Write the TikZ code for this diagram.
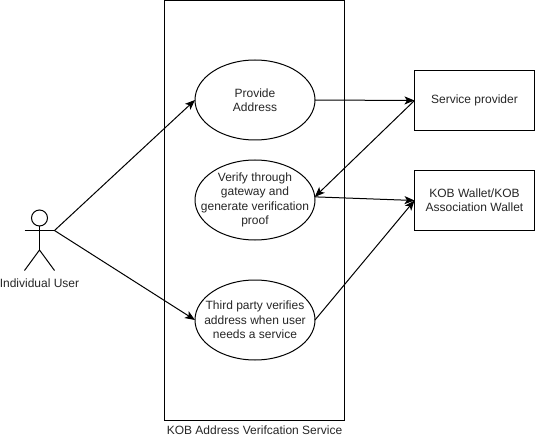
\documentclass[tikz,border=0pt]{standalone}
\usepackage{fontspec}
\setmainfont{Liberation Sans}
\usetikzlibrary{shapes.geometric,arrows.meta}
\tikzset{
  every node/.style={font=\fontsize{12}{14.4}\selectfont,text=black!85},
  usecase/.style={draw,ellipse,minimum width=120pt,minimum height=80pt,inner sep=-20pt,outer sep=0pt,align=center,line width=1pt},
  sysbox/.style={draw,rectangle,minimum width=120pt,minimum height=60pt,inner sep=0pt,outer sep=0pt,align=center,line width=1pt},
  conn/.style={line width=1pt,-{Stealth[length=10pt,width=8pt,inset=2.5pt]}},
  stick/.style={line width=1pt},
}
\begin{document}
\begin{tikzpicture}[x=1pt,y=-1pt]
\useasboundingbox (0,0) rectangle (560,441);
\node[draw,rectangle,line width=1pt,minimum width=180pt,minimum height=420pt,inner sep=0pt,outer sep=0pt] (sys) at (254.5,210.5) {};
\node[anchor=center] (syslabel) at (254.5,430.5) {KOB Address Verifcation Service};
\node[usecase] (e1) at (255,100) {Provide\\Address};
\node[usecase] (e2) at (255,200) {Verify through\\gateway and\\generate verification\\proof};
\node[usecase] (e3) at (255,320) {Third party verifies\\address when user\\needs a service};
\node[sysbox] (b1) at (474.5,100.5) {Service provider};
\node[sysbox] (b2) at (474.5,200.5) {KOB Wallet/KOB\\Association Wallet};
% actor
\node[draw,circle,line width=1pt,minimum size=16pt,inner sep=0pt,outer sep=0pt] (head) at (39.5,218) {};
\coordinate (hip) at (39.5,250);
\coordinate (lhand) at (24.5,230.5);
\coordinate (rhand) at (54.5,230.5);
\coordinate (lfoot) at (24.5,270.5);
\coordinate (rfoot) at (54.5,270.5);
\draw[stick] (head.south) -- (hip);
\draw[stick] (lhand) -- (rhand);
\draw[stick] (lfoot) -- (hip) -- (rfoot);
\node (actorlabel) at (39.5,283.5) {Individual User};
% connectors
\draw[conn] (rhand) -- (e1.west);
\draw[conn] (rhand) -- (e3.west);
\draw[conn] (e1.east) -- (b1.west);
\draw[conn] (b1.west) -- (e2.3);
\draw[conn] (e2.3) -- (b2.west);
\draw[conn] (e3.east) -- (b2.west);
\end{tikzpicture}
\end{document}
